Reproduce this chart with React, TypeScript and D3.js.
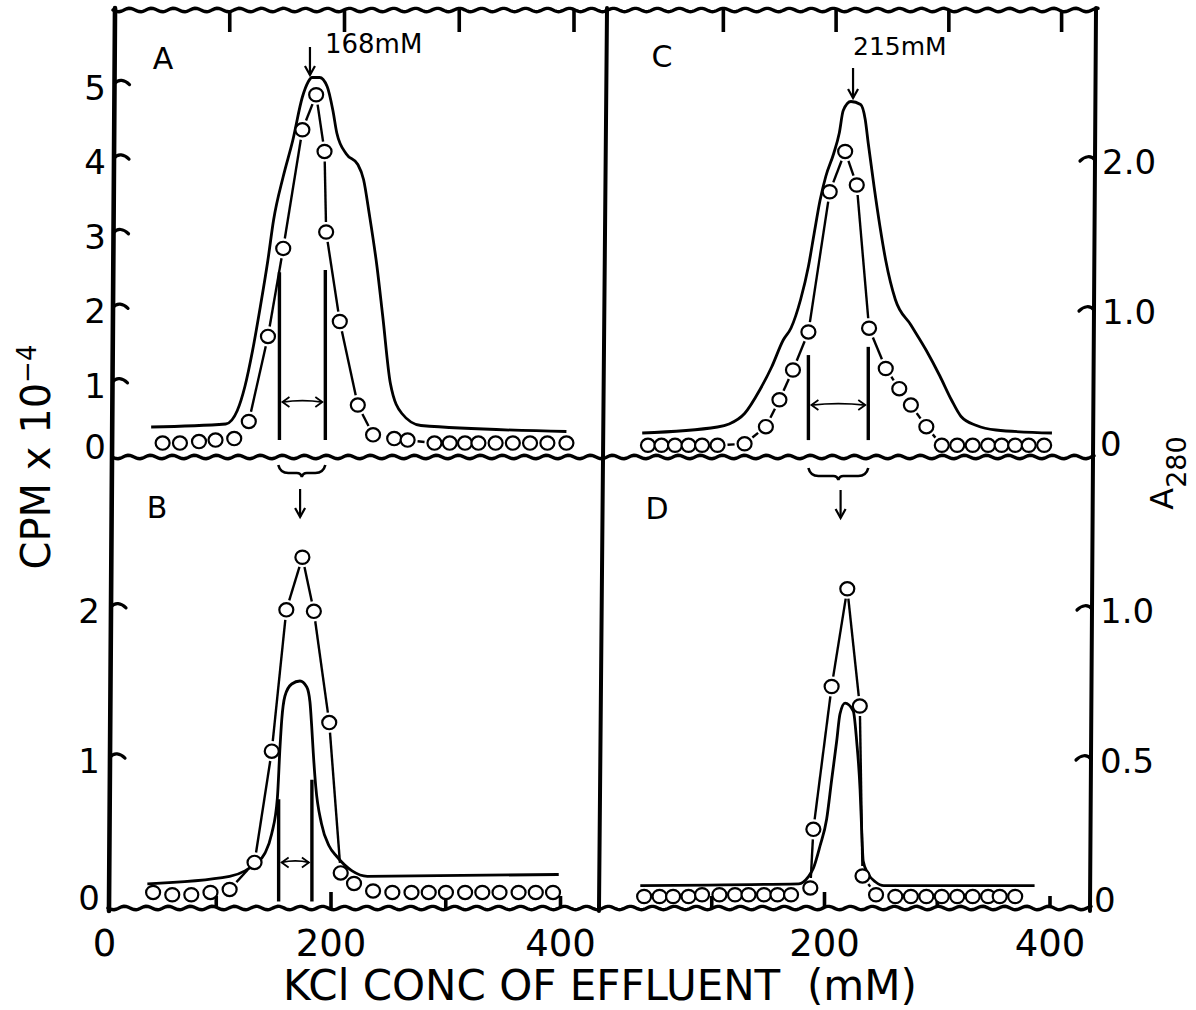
import React from "react";
import * as d3 from "d3";

// ---------------- DATA ----------------
// Panel A (top-left): circles = CPM x 10^-4 (left axis), line = A280 (right axis)
const aDotKcl = [47.6, 62.7, 79.3, 93.7, 110.0, 122.7, 139.4, 152.7, 169.4, 181.4, 188.7, 190.1, 202.0, 217.7, 231.0, 249.4, 261.1, 284.5, 297.8, 311.1, 322.8, 337.8, 352.8, 367.8, 382.9, 399.5];
const aDotCpm = [0.18, 0.18, 0.2, 0.22, 0.24, 0.47, 1.61, 2.79, 4.38, 4.85, 4.09, 3.01, 1.81, 0.69, 0.29, 0.24, 0.22, 0.18, 0.18, 0.18, 0.18, 0.18, 0.18, 0.18, 0.18, 0.18];
const aLineKcl = [37.6, 102.6, 112.7, 119.3, 126, 132.7, 139.3, 144.3, 152.7, 161, 169.4, 174.4, 177.7, 184.4, 191, 196, 199.4, 207.7, 217.7, 222.7, 227.7, 234.4, 239.4, 246.1, 256.1, 272.7, 399.5];
const aLineA280 = [0.22, 0.24, 0.33, 0.49, 0.73, 1.02, 1.33, 1.6, 1.89, 2.13, 2.42, 2.52, 2.55, 2.55, 2.49, 2.33, 2.18, 2.04, 1.97, 1.87, 1.64, 1.29, 0.96, 0.51, 0.31, 0.23, 0.19];

// Panel C (top-right)
const cDotKcl = [38.1, 50.1, 62.1, 74.1, 86.1, 99.8, 123.8, 142.7, 154.7, 166.7, 180.4, 199.3, 213, 223.3, 234.2, 249, 261, 271.3, 285, 298.7, 312.4, 326.1, 339.8, 351.8, 363.8, 375.8, 389.5];
const cDotCpm = [0.15, 0.15, 0.15, 0.15, 0.15, 0.15, 0.17, 0.4, 0.76, 1.16, 1.67, 3.55, 4.09, 3.64, 1.72, 1.18, 0.91, 0.69, 0.4, 0.15, 0.15, 0.15, 0.15, 0.15, 0.15, 0.15, 0.15];
const cLineKcl = [33.0, 99.8, 110.1, 123.8, 137.5, 147.8, 158.1, 165, 173.5, 180.4, 185.5, 190.7, 195.8, 202.7, 207.8, 211.3, 218.1, 226.7, 230.8, 233.5, 238.7, 243.8, 249, 257.5, 271.3, 285, 297, 307.3, 315.8, 329.5, 346.7, 396.4];
const cLineA280 = [0.18, 0.22, 0.24, 0.31, 0.47, 0.62, 0.8, 0.88, 1.07, 1.29, 1.51, 1.73, 1.89, 2.04, 2.18, 2.33, 2.39, 2.37, 2.27, 2.11, 1.82, 1.56, 1.33, 1.07, 0.9, 0.73, 0.56, 0.4, 0.29, 0.23, 0.2, 0.18];

// Panel B (bottom-left)
const bDotKcl = [39.3, 56, 72.6, 89.3, 106, 127.7, 142.7, 155.4, 169.4, 179.4, 192.8, 202.8, 214.4, 231, 247.8, 264.5, 279.5, 294.5, 311.2, 326.2, 341.2, 357.8, 372.8, 387.8];
const bDotCpm = [0.1, 0.085, 0.085, 0.1, 0.12, 0.3, 1.04, 1.98, 2.33, 1.97, 1.23, 0.23, 0.16, 0.11, 0.1, 0.1, 0.1, 0.1, 0.1, 0.1, 0.1, 0.1, 0.1, 0.1];
const bLineKcl = [34.3, 106, 119.4, 128, 136.8, 142.6, 147.6, 149.9, 151.4, 154.2, 160.1, 167.3, 173.2, 176, 177.5, 178.9, 181, 186, 192.7, 199.4, 212.7, 226, 392.8];
const bLineA280 = [0.084, 0.109, 0.127, 0.15, 0.186, 0.25, 0.37, 0.54, 0.63, 0.71, 0.75, 0.76, 0.74, 0.69, 0.61, 0.52, 0.41, 0.285, 0.21, 0.175, 0.127, 0.109, 0.115];

// Panel D (bottom-right)
const dDotKcl = [34.7, 48.4, 60.4, 74.1, 86.1, 101.5, 115.3, 127.3, 141, 153, 165, 182.1, 184.8, 201, 214.9, 226, 228.4, 240.4, 257.5, 271.3, 285, 298.7, 312.4, 326.1, 339.8, 350.1, 363.8];
const dDotCpm = [0.073, 0.073, 0.073, 0.073, 0.085, 0.085, 0.085, 0.085, 0.085, 0.085, 0.085, 0.13, 0.52, 1.47, 2.12, 1.34, 0.21, 0.085, 0.073, 0.073, 0.073, 0.073, 0.073, 0.073, 0.073, 0.073, 0.073];
const dLineKcl = [31.3, 171.8, 180.4, 184.8, 190.7, 196.6, 201, 205.5, 208.4, 212.9, 220.2, 223.2, 226.2, 227.7, 229, 233, 240, 247.3, 381];
const dLineA280 = [0.078, 0.084, 0.108, 0.136, 0.21, 0.3, 0.43, 0.56, 0.65, 0.686, 0.66, 0.56, 0.4, 0.26, 0.16, 0.12, 0.09, 0.078, 0.078];

// Fraction-pool boundaries (mM) and their heights (CPM units)
const aPoolKcl = [149.4, 189.4];
const aPoolTop = [2.47, 2.5];
const cPoolKcl = [180.4, 233.5];
const cPoolTop = [1.36, 1.47];
const bPoolKcl = [148.7, 177.7];
const bPoolTop = [0.72, 0.85];

// Peak annotations
const peakKcl = [176, 220];
const peakLabels = ["168mM", "215mM"];

// Tick values / labels
const xTickVals = [100, 200, 300, 400];
const xLabelsLeft = [0, 200, 400];
const xLabelsRight = [200, 400];
const cpmTopTicks = [1, 2, 3, 4, 5];
const cpmTopLabels = [0, 1, 2, 3, 4, 5];
const cpmBotTicks = [1, 2];
const cpmBotLabels = [0, 1, 2];
const a280TopTicks = [1, 2];
const a280TopLabels = ["0", "1.0", "2.0"];
const a280BotTicks = [0.5, 1];
const a280BotLabels = ["0", "0.5", "1.0"];

// ---------------- SCALES ----------------
const xLeft = d3.scaleLinear().domain([0, 400]).range([108, 567]);
const xRight = d3.scaleLinear().domain([0, 400]).range([605, 1056]);
const xLeftTop = d3.scaleLinear().domain([0, 400]).range([115, 574]);
const xLeftBot = d3.scaleLinear().domain([0, 400]).range([101.5, 560.5]);
const xRightTop = d3.scaleLinear().domain([0, 400]).range([610.6, 1061.6]);
const xRightBot = d3.scaleLinear().domain([0, 400]).range([599, 1050]);

const yCpmTop = d3.scaleLinear().domain([0, 6]).range([456.5, 9]);
const yA280Top = d3.scaleLinear().domain([0, 3]).range([460, 10]);
const yCpmBot = d3.scaleLinear().domain([0, 3]).range([907.5, 456.5]);
const yA280Bot = d3.scaleLinear().domain([0, 1.5]).range([909, 459]);

const FONT = "'DejaVu Sans', Verdana, sans-serif";
const INK = "#000";

// frame geometry
const TOP = 10, MID = 457, BOT = 908;
const leftAxisX = (y: number) => 115 - (6 * (y - TOP)) / (BOT - TOP);
const dividerX = (y: number) => 607 - (8 * (y - TOP)) / (BOT - TOP);
const rightAxisX = (y: number) => 1096 - (6 * (y - TOP)) / (BOT - TOP);

function wavy(x1: number, x2: number, y: number, amp = 1.7, period = 22) {
  const n = Math.ceil((x2 - x1) / 2);
  const pts = d3.range(n + 1).map((i) => {
    const x = x1 + ((x2 - x1) * i) / n;
    return [x, y + amp * Math.sin(((x - x1) / period) * 2 * Math.PI)] as [number, number];
  });
  return d3.line()(pts) || "";
}

function Panel(props: {
  dotX: number[]; dotY: number[]; lineX: number[]; lineY: number[];
  x: d3.ScaleLinear<number, number>; yL: d3.ScaleLinear<number, number>; yR: d3.ScaleLinear<number, number>;
}) {
  const { dotX, dotY, lineX, lineY, x, yL, yR } = props;
  const r = 7;
  const pts = dotX.map((v, i) => [x(v), yL(dotY[i])]);
  const segs: number[][] = [];
  for (let i = 0; i < pts.length - 1; i++) {
    const [x1, y1] = pts[i];
    const [x2, y2] = pts[i + 1];
    const dx = x2 - x1, dy = y2 - y1;
    const d = Math.hypot(dx, dy);
    const g = r + 3;
    if (d > 2 * g + 3) {
      const ux = dx / d, uy = dy / d;
      segs.push([x1 + ux * g, y1 + uy * g, x2 - ux * g, y2 - uy * g]);
    }
  }
  const lineGen = d3
    .line<number>()
    .x((d) => x(d))
    .y((_d, i) => yR(lineY[i]))
    .curve(d3.curveMonotoneX);
  return (
    <g>
      <path d={lineGen(lineX) || ""} fill="none" stroke={INK} strokeWidth={2.8} strokeLinejoin="round" />
      {segs.map((s, i) => (
        <line key={i} x1={s[0]} y1={s[1]} x2={s[2]} y2={s[3]} stroke={INK} strokeWidth={2.4} />
      ))}
      {pts.map((p, i) => (
        <ellipse key={i} cx={p[0]} cy={p[1]} rx={r} ry={r * 0.95} fill="#fff" stroke={INK} strokeWidth={2.2} />
      ))}
    </g>
  );
}

function Pool(props: { kcl: number[]; tops: number[]; x: d3.ScaleLinear<number, number>; y: d3.ScaleLinear<number, number>; base: number; arrowAt: number }) {
  const { kcl, tops, x, y, base, arrowAt } = props;
  const x1 = x(kcl[0]), x2 = x(kcl[1]);
  const ya = y(arrowAt);
  const h = 5, w = 7;
  return (
    <g stroke={INK} fill="none">
      {kcl.map((k, i) => (
        <line key={i} x1={x(k)} x2={x(k)} y1={y(tops[i])} y2={y(base)} strokeWidth={3.4} />
      ))}
      <path d={`M${x1 + 3},${ya} Q${(x1 + x2) / 2},${ya - 3} ${x2 - 3},${ya}`} strokeWidth={1.8} />
      <path d={`M${x1 + 3 + w},${ya - h} L${x1 + 3},${ya} L${x1 + 3 + w},${ya + h}`} strokeWidth={1.8} />
      <path d={`M${x2 - 3 - w},${ya - h} L${x2 - 3},${ya} L${x2 - 3 - w},${ya + h}`} strokeWidth={1.8} />
    </g>
  );
}

function DownArrow({ x, y1, y2 }: { x: number; y1: number; y2: number }) {
  return (
    <g stroke={INK} fill="none" strokeWidth={2.2}>
      <line x1={x} x2={x} y1={y1} y2={y2} />
      <path d={`M${x - 5},${y2 - 9} L${x},${y2} L${x + 5},${y2 - 9}`} />
    </g>
  );
}

function Brace({ x1, x2, y }: { x1: number; x2: number; y: number }) {
  const xm = (x1 + x2) / 2;
  return (
    <path
      d={`M${x1},${y} Q${x1 + 2},${y + 8} ${x1 + 10},${y + 8} L${xm - 5},${y + 8} Q${xm - 1},${y + 8} ${xm},${y + 12} Q${xm + 1},${y + 8} ${xm + 5},${y + 8} L${x2 - 10},${y + 8} Q${x2 - 2},${y + 8} ${x2},${y}`}
      fill="none"
      stroke={INK}
      strokeWidth={2.6}
    />
  );
}

function yTickPath(x0: number, y: number, dir: number) {
  return `M${x0},${y} C${x0 + dir * 4},${y - 5} ${x0 + dir * 10},${y - 4} ${x0 + dir * 15},${y + 1}`;
}

export default function App() {
  const W = 1196, H = 1010;
  return (
    <svg width={W} height={H} style={{ position: "absolute", left: 0, top: 0, background: "#fff" }} fontFamily={FONT}>
      <rect x={0} y={0} width={W} height={H} fill="#fff" />

      {/* frame */}
      <g stroke={INK} fill="none" strokeLinecap="round">
        <path d={wavy(113, 1098, TOP)} strokeWidth={3.4} />
        <path d={wavy(112, 1094, MID)} strokeWidth={3.4} />
        <path d={wavy(108, 1091, BOT)} strokeWidth={3.4} />
        <line x1={leftAxisX(TOP - 2)} y1={TOP - 2} x2={leftAxisX(BOT + 3)} y2={BOT + 3} strokeWidth={4.6} />
        <line x1={dividerX(TOP - 2)} y1={TOP - 2} x2={dividerX(BOT + 3)} y2={BOT + 3} strokeWidth={4} />
        <line x1={rightAxisX(TOP - 2)} y1={TOP - 2} x2={rightAxisX(BOT + 3)} y2={BOT + 3} strokeWidth={4} />
      </g>

      {/* x ticks */}
      <g stroke={INK} strokeWidth={3.6}>
        {xTickVals.map((v) => (
          <line key={"lt" + v} x1={xLeftTop(v)} x2={xLeftTop(v)} y1={TOP} y2={TOP + 22} />
        ))}
        {xTickVals.map((v) => (
          <line key={"rt" + v} x1={xRightTop(v)} x2={xRightTop(v)} y1={TOP} y2={TOP + 22} />
        ))}
        {xTickVals.map((v) => (
          <line key={"lb" + v} x1={xLeftBot(v)} x2={xLeftBot(v)} y1={BOT} y2={BOT - (v === 200 ? 16 : 12)} />
        ))}
        {xTickVals.map((v) => (
          <line key={"rb" + v} x1={xRightBot(v)} x2={xRightBot(v)} y1={BOT} y2={BOT - (v === 200 ? 16 : 12)} />
        ))}
      </g>

      {/* y ticks */}
      <g stroke={INK} strokeWidth={3.2} fill="none" strokeLinecap="round">
        {cpmTopTicks.map((v) => {
          const y = yCpmTop(v);
          return <path key={"ct" + v} d={yTickPath(leftAxisX(y), y, 1)} />;
        })}
        {cpmBotTicks.map((v) => {
          const y = yCpmBot(v);
          return <path key={"cb" + v} d={yTickPath(leftAxisX(y), y, 1)} />;
        })}
        {a280TopTicks.map((v) => {
          const y = yA280Top(v);
          return <path key={"at" + v} d={yTickPath(rightAxisX(y), y, -1)} />;
        })}
        {a280BotTicks.map((v) => {
          const y = yA280Bot(v);
          return <path key={"ab" + v} d={yTickPath(rightAxisX(y), y, -1)} />;
        })}
      </g>

      {/* y tick labels */}
      <g fontSize={34} fill={INK} textAnchor="middle" dominantBaseline="central">
        {cpmTopLabels.map((v) => (
          <text key={"lt" + v} x={95} y={yCpmTop(v) + (v === 0 ? -10 : 4)}>{v}</text>
        ))}
        {cpmBotLabels.map((v) => (
          <text key={"lb" + v} x={89} y={yCpmBot(v) + (v === 0 ? -10 : 4)}>{v}</text>
        ))}
      </g>
      <g fontSize={34} fill={INK} textAnchor="start" dominantBaseline="central">
        {a280TopLabels.map((s) => {
          const v = +s;
          return <text key={"rt" + s} x={v === 0 ? 1100 : 1102} y={yA280Top(v) + (v === 0 ? -16 : 2)}>{s}</text>;
        })}
        {a280BotLabels.map((s) => {
          const v = +s;
          return <text key={"rb" + s} x={v === 0 ? 1094 : 1100} y={yA280Bot(v) + (v === 0 ? -9 : 2)}>{s}</text>;
        })}
      </g>

      {/* x tick labels */}
      <g fontSize={37} fill={INK} textAnchor="middle">
        {xLabelsLeft.map((v) => (
          <text key={"xl" + v} x={v === 0 ? xLeftBot(v) + 3 : xLeftBot(v)} y={956}>{v}</text>
        ))}
        {xLabelsRight.map((v) => (
          <text key={"xr" + v} x={xRightBot(v)} y={956}>{v}</text>
        ))}
      </g>

      {/* axis titles */}
      <text x={600} y={1000} fontSize={42} textAnchor="middle" fill={INK} style={{ whiteSpace: "pre" }}>
        {"KCl CONC OF EFFLUENT  (mM)"}
      </text>
      <text transform="translate(50,457) rotate(-90)" fontSize={40} textAnchor="middle" fill={INK}>
        CPM x 10<tspan dy={-14} fontSize={26}>−4</tspan>
      </text>
      <text transform="translate(1173,473) rotate(-90)" fontSize={32} textAnchor="middle" fill={INK}>
        A<tspan dy={13} fontSize={27}>280</tspan>
      </text>

      {/* panel letters */}
      <g fontSize={30} fill={INK} textAnchor="middle" dominantBaseline="central">
        <text x={163} y={58}>A</text>
        <text x={662} y={56}>C</text>
        <text x={157} y={507}>B</text>
        <text x={657} y={508}>D</text>
      </g>

      {/* data */}
      <Panel dotX={aDotKcl} dotY={aDotCpm} lineX={aLineKcl} lineY={aLineA280} x={xLeft} yL={yCpmTop} yR={yA280Top} />
      <Panel dotX={cDotKcl} dotY={cDotCpm} lineX={cLineKcl} lineY={cLineA280} x={xRight} yL={yCpmTop} yR={yA280Top} />
      <Panel dotX={bDotKcl} dotY={bDotCpm} lineX={bLineKcl} lineY={bLineA280} x={xLeft} yL={yCpmBot} yR={yA280Bot} />
      <Panel dotX={dDotKcl} dotY={dDotCpm} lineX={dLineKcl} lineY={dLineA280} x={xRight} yL={yCpmBot} yR={yA280Bot} />

      {/* pooled fractions */}
      <Pool kcl={aPoolKcl} tops={aPoolTop} x={xLeft} y={yCpmTop} base={0.22} arrowAt={0.73} />
      <Pool kcl={cPoolKcl} tops={cPoolTop} x={xRight} y={yCpmTop} base={0.22} arrowAt={0.69} />
      <Pool kcl={bPoolKcl} tops={bPoolTop} x={xLeft} y={yCpmBot} base={0.04} arrowAt={0.3} />

      {/* peak annotations */}
      <DownArrow x={xLeft(peakKcl[0])} y1={47} y2={75} />
      <text x={xLeft(peakKcl[0]) + 15} y={53} fontSize={26} fill={INK}>{peakLabels[0]}</text>
      <DownArrow x={xRight(peakKcl[1])} y1={68} y2={98} />
      <text x={xRight(peakKcl[1])} y={55} fontSize={25} fill={INK} textAnchor="start">{peakLabels[1]}</text>

      {/* braces indicating pooled fractions re-run */}
      <Brace x1={xLeft(aPoolKcl[0] - 1)} x2={xLeft(aPoolKcl[1])} y={465} />
      <DownArrow x={xLeft((aPoolKcl[0] + aPoolKcl[1]) / 2 - 2)} y1={489} y2={517} />
      <Brace x1={xRight(cPoolKcl[0])} x2={xRight(cPoolKcl[1])} y={468} />
      <DownArrow x={xRight((cPoolKcl[0] + cPoolKcl[1]) / 2 + 2)} y1={490} y2={518} />
    </svg>
  );
}
